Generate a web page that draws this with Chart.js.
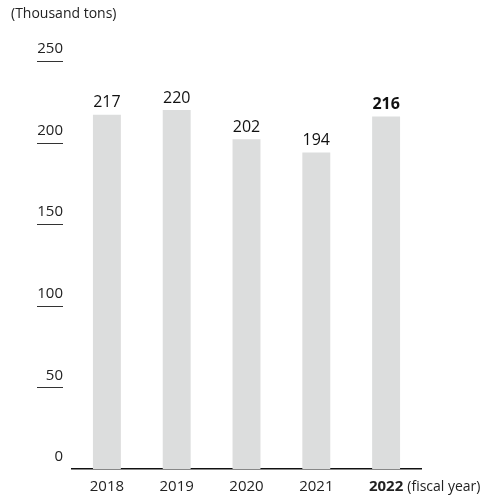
<!DOCTYPE html>
<html>
<head>
<meta charset="utf-8">
<script src="https://cdn.jsdelivr.net/npm/chart.js@4/dist/chart.umd.min.js"></script>
<style>
    html, body { margin: 0; padding: 0; background: #fff; }
    #wrap { width: 483px; height: 497px; position: relative; }
</style>
</head>
<body>
<div id="wrap"><canvas id="chart"></canvas></div>
<script>
// Fiscal years and volumes (thousand tons)
const years = ['2018', '2019', '2020', '2021', '2022'];
const volumes = [217, 220, 202, 194, 216];
const yTicks = [0, 50, 100, 150, 200, 250];

const FONT = '"Open Sans", "Noto Sans", sans-serif';
const LATEST = years.length - 1;

/**
 * Draws the y tick labels with short underlines, the unit caption
 * and the "(fiscal year)" suffix.
 */
const decorPlugin = {
    id: 'decor',
    afterDraw(chart) {
        const ctx = chart.ctx;
        const y = chart.scales.y;
        const x = chart.scales.x;
        ctx.save();

        ctx.fillStyle = '#222';
        ctx.font = '14px ' + FONT;
        ctx.textAlign = 'left';
        ctx.textBaseline = 'middle';
        ctx.fillText('(Thousand tons)', 11, 14);

        ctx.font = '15px ' + FONT;
        ctx.textAlign = 'right';
        yTicks.forEach(v => {
            const py = y.getPixelForValue(v);
            ctx.fillStyle = '#222';
            ctx.fillText(String(v), 63, py - 12);
            if (v > 0) {
                ctx.strokeStyle = '#333';
                ctx.lineWidth = 1;
                ctx.beginPath();
                ctx.moveTo(37, Math.round(py) + 0.5);
                ctx.lineTo(63, Math.round(py) + 0.5);
                ctx.stroke();
            }
        });

        // suffix after the last year label
        const lx = x.getPixelForValue(LATEST);
        ctx.font = 'bold 15px ' + FONT;
        const w = ctx.measureText(years[LATEST]).width;
        ctx.font = '14px ' + FONT;
        ctx.textAlign = 'left';
        ctx.fillStyle = '#222';
        ctx.fillText('(fiscal year)', lx + w / 2 + 4, y.getPixelForValue(0) + 18);
        ctx.restore();
    },
    afterDatasetsDraw(chart) {
        const ctx = chart.ctx;
        const meta = chart.getDatasetMeta(0);
        ctx.save();
        ctx.textAlign = 'center';
        ctx.textBaseline = 'bottom';
        ctx.fillStyle = '#111';
        meta.data.forEach((bar, i) => {
            ctx.font = (i === LATEST ? 'bold ' : '') + '16px ' + FONT;
            ctx.fillText(String(volumes[i]), bar.x, bar.y - 4);
        });
        ctx.restore();
    }
};

document.addEventListener('DOMContentLoaded', function () {
    new Chart(document.getElementById('chart').getContext('2d'), {
        type: 'bar',
        data: {
            labels: years,
            datasets: [{
                data: volumes,
                backgroundColor: '#dcdddd',
                barPercentage: 0.4,
                categoryPercentage: 1.0
            }]
        },
        options: {
            responsive: true,
            maintainAspectRatio: false,
            animation: false,
            layout: { padding: { left: 72, right: 62, top: 61, bottom: 0 } },
            plugins: {
                legend: { display: false },
                tooltip: { enabled: false }
            },
            scales: {
                x: {
                    grid: { display: false, drawTicks: false },
                    border: { display: true, color: '#111', width: 1.5 },
                    afterFit: scale => { scale.height = 28; },
                    ticks: {
                        padding: 9,
                        color: '#222',
                        font: c => ({
                            family: FONT,
                            size: 15,
                            weight: c.index === LATEST ? 'bold' : 'normal'
                        })
                    }
                },
                y: {
                    display: false,
                    min: 0,
                    max: 250
                }
            }
        },
        plugins: [decorPlugin]
    });
});
</script>
</body>
</html>
